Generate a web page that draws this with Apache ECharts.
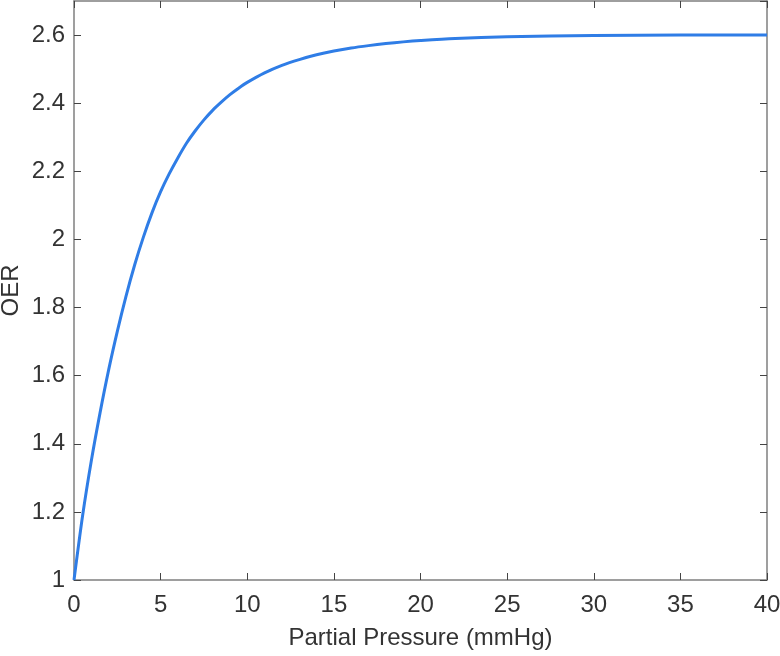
<!DOCTYPE html>
<html>
<head>
<meta charset="utf-8">
<script src="https://cdn.jsdelivr.net/npm/echarts@6/dist/echarts.min.js"></script>
<style>
  html, body { margin: 0; padding: 0; background: #fff; }
  #chart { width: 780px; height: 656px; }
</style>
</head>
<body>
<div id="chart"></div>
<script>
// values
var pressure = [0, 0.5, 1, 1.5, 2, 2.5, 3, 3.5, 4, 4.5, 5, 5.5, 6, 6.5, 7, 7.5, 8, 8.5, 9, 9.5, 10,
	11, 12, 13, 14, 15, 16, 17, 18, 19, 20, 22, 25, 30, 35, 40];
var oer = [1.000, 1.190, 1.350, 1.490, 1.617, 1.730, 1.833, 1.925, 2.006, 2.078, 2.140, 2.193, 2.240, 2.283, 2.319, 2.351, 2.379, 2.403, 2.425, 2.444, 2.461,
	2.489, 2.511, 2.528, 2.542, 2.553, 2.562, 2.569, 2.575, 2.580, 2.584, 2.590, 2.595, 2.599, 2.600, 2.600];

var xTitle = "Partial Pressure (mmHg)";
var yTitle = "OER";

var points = [];
for (var i = 0; i < pressure.length; i++) {
	points.push([pressure[i], oer[i]]);
}

var axisGray = "#7f7f7f";
var textColor = "#333333";
var font = "Liberation Sans, Arial, Helvetica, sans-serif";

function boxAxis(extra) {
	var base = {
		type: "value",
		axisLine: { show: true, onZero: false, lineStyle: { color: axisGray, width: 1.5 } },
		axisTick: { show: true, inside: true, length: 7, lineStyle: { color: "#444", width: 1 } },
		splitLine: { show: false },
		axisLabel: { show: false }
	};
	for (var k in extra) base[k] = extra[k];
	return base;
}

var chart = echarts.init(document.getElementById("chart"));
chart.setOption({
	animation: false,
	grid: { left: 74, right: 13, top: 1, bottom: 76, containLabel: false, outerBoundsMode: "none" },
	xAxis: [
		boxAxis({
			position: "bottom", min: 0, max: 40, interval: 5,
			name: xTitle, nameLocation: "middle", nameGap: 46, nameMoveOverlap: false,
			nameTextStyle: { color: textColor, fontSize: 24, fontFamily: font },
			axisLabel: { show: true, margin: 13, color: textColor, fontSize: 24, fontFamily: font }
		}),
		boxAxis({ position: "top", min: 0, max: 40, interval: 5 })
	],
	yAxis: [
		boxAxis({
			position: "left", min: 1, max: 2.7, interval: 0.2,
			name: yTitle, nameLocation: "middle", nameGap: 51, nameRotate: 90, nameMoveOverlap: false,
			nameTextStyle: { color: textColor, fontSize: 24, fontFamily: font },
			axisLabel: { show: true, margin: 9, color: textColor, fontSize: 24, fontFamily: font,
				showMaxLabel: false,
				formatter: function (v) { return Math.abs(v - 2.7) < 1e-6 ? "" : String(+v.toFixed(1)); } }
		}),
		boxAxis({ position: "right", min: 1, max: 2.7, interval: 0.2 })
	],
	series: [{
		type: "line",
		xAxisIndex: 0,
		yAxisIndex: 0,
		data: points,
		smooth: 0.3,
		showSymbol: false,
		lineStyle: { color: "#2f7de6", width: 3 }
	}]
});
</script>
</body>
</html>
